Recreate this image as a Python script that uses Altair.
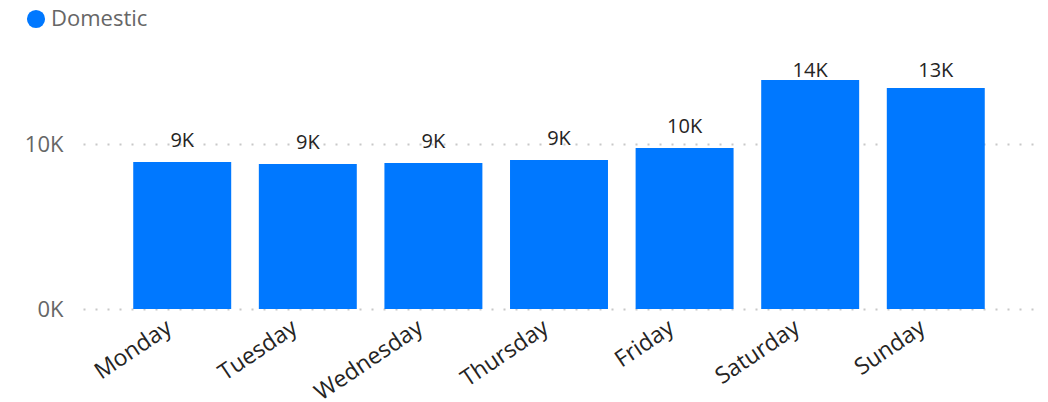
import altair as alt
import pandas as pd

days = ["Monday", "Tuesday", "Wednesday", "Thursday", "Friday", "Saturday", "Sunday"]
values = [8925, 8800, 8860, 9050, 9780, 13900, 13420]
series = ["Domestic"] * len(days)

df = pd.DataFrame({"day": days, "value": values, "series": series})

BLUE = "#0078ff"
FONT = "Open Sans"

base = alt.Chart(df).encode(
    x=alt.X(
        "day:N",
        sort=days,
        title=None,
        scale=alt.Scale(paddingInner=0.22, paddingOuter=0.4),
        axis=alt.Axis(
            labelAngle=-34,
            labelAlign="right",
            labelBaseline="top",
            labelFontSize=23,
            labelFont=FONT,
            labelColor="#252423",
            labelPadding=7,
            labelOffset=-19,
            labelBound=False,
            labelOverlap=False,
            ticks=False,
            domain=False,
            grid=False,
        ),
    )
)

bars = base.mark_bar(color=BLUE).encode(
    y=alt.Y(
        "value:Q",
        title=None,
        scale=alt.Scale(domain=[0, 15000], nice=False),
        axis=alt.Axis(
            values=[0, 10000],
            labelExpr="datum.value / 1000 + 'K'",
            labelFontSize=22,
            labelFont=FONT,
            labelColor="#666666",
            labelPadding=20,
            ticks=False,
            domain=False,
            grid=True,
            gridColor="#c8c8c8",
            gridDash=[2, 10],
            gridWidth=2,
        ),
    ),
    color=alt.Color(
        "series:N",
        scale=alt.Scale(domain=["Domestic"], range=[BLUE]),
        legend=alt.Legend(
            title=None,
            orient="none",
            legendX=-58,
            legendY=-54,
            symbolType="circle",
            symbolSize=330,
            symbolStrokeWidth=0,
            labelFontSize=22,
            labelFont=FONT,
            labelColor="#666666",
            labelOffset=4,
            labelLimit=300,
            padding=0,
        ),
    ),
)

labels = base.transform_calculate(
    label="round(datum.value / 1000) + 'K'",
    ly="min(datum.value + 910, 14090)",
).mark_text(
    baseline="alphabetic",
    fontSize=20,
    font=FONT,
    color="#252423",
).encode(
    y=alt.Y("ly:Q"),
    text="label:N",
)

chart = alt.layer(bars, labels).properties(
    width=952,
    height=247,
    autosize=alt.AutoSizeParams(type="none"),
    padding={"left": 75, "top": 54, "right": 5, "bottom": 93},
).configure_view(stroke=None)

chart.save("out.html", embed_options={"renderer": "svg", "actions": False})
